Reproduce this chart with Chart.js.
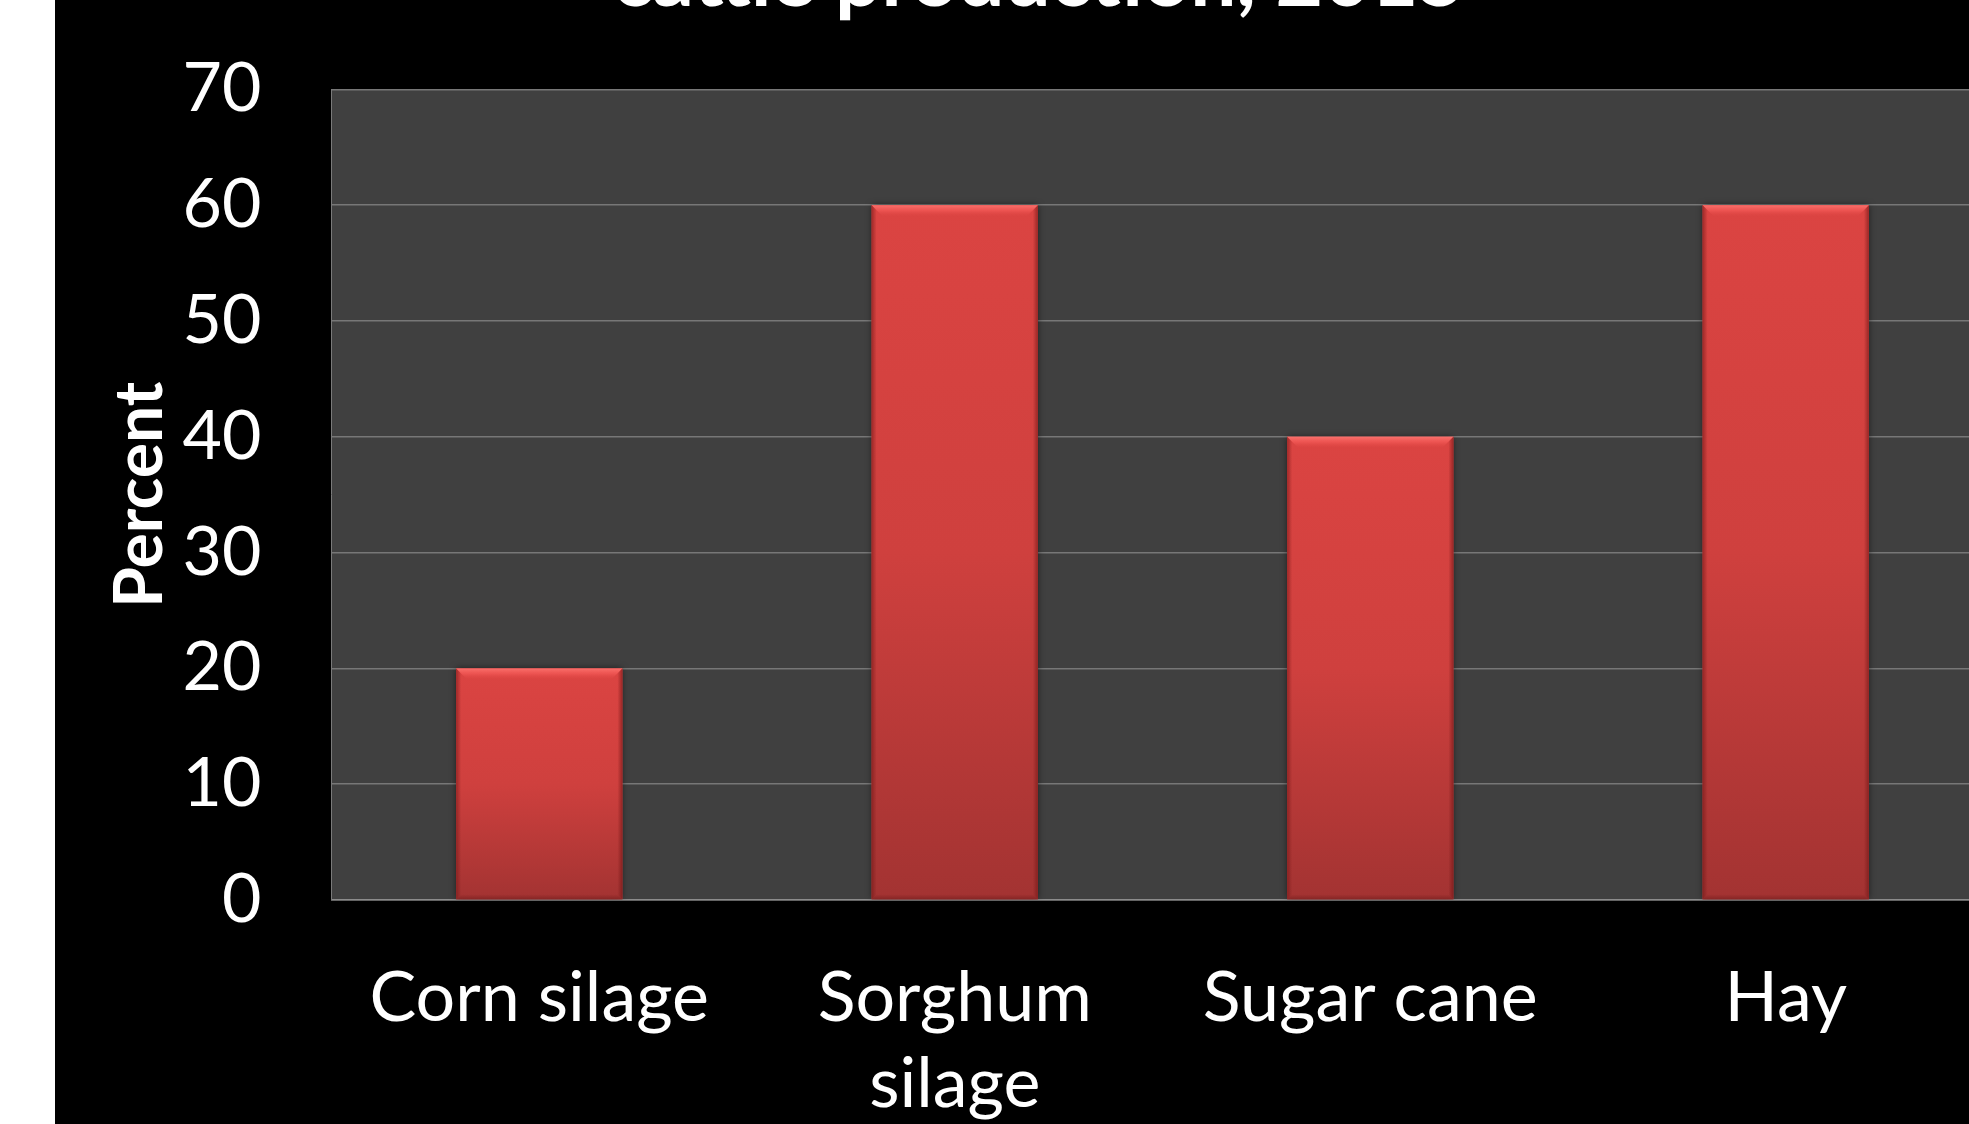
<!DOCTYPE html>
<html>
<head>
<meta charset="utf-8">
<script src="https://cdn.jsdelivr.net/npm/chart.js@4/dist/chart.umd.min.js"></script>
<style>
  html, body { margin: 0; padding: 0; background: #ffffff; overflow: hidden; width: 1969px; height: 1124px; }
  #wrap { position: absolute; left: 55px; top: -82px; width: 1968px; height: 1214px; background: #000000; }
  canvas { display: block; }
</style>
</head>
<body>
<div id="wrap"><canvas id="chart" width="1968" height="1214"></canvas></div>
<script>
// Forage use in cattle production (percent)
const categories = ['Corn silage', ['Sorghum', 'silage'], 'Sugar cane', 'Hay'];
const percentValues = [20, 60, 40, 60];
const yTicks = [0, 10, 20, 30, 40, 50, 60, 70];
const titleText = 'cattle production, 2015';
const yAxisTitle = 'Percent';

const FONT = 'Lato, "Open Sans", sans-serif';

// dark grey plotting area behind the grid
const plotBackground = {
  id: 'plotBackground',
  beforeDraw(chart) {
    const { ctx, chartArea: a } = chart;
    ctx.save();
    ctx.fillStyle = '#404040';
    ctx.fillRect(a.left, a.top, a.right - a.left, a.bottom - a.top);
    ctx.restore();
  }
};

// soft shadow under the bars, a vertical shading and a bevelled edge on each one
const barBevel = {
  id: 'barBevel',
  beforeDatasetsDraw(chart) {
    const c = chart.ctx;
    c.save();
    c.shadowColor = 'rgba(0,0,0,0.6)';
    c.shadowBlur = 7;
    c.shadowOffsetX = 0;
    c.shadowOffsetY = 0;
  },
  afterDatasetsDraw(chart) {
    const c = chart.ctx;
    c.restore();
    chart.getDatasetMeta(0).data.forEach(el => {
      const { x, y, base, width } = el.getProps(['x', 'y', 'base', 'width'], true);
      if (![x, y, base, width].every(Number.isFinite)) return;
      const l = x - width / 2, r = x + width / 2, t = y, b = base;
      const tb = 11, sb = 5;
      c.save();
      // body shading, light at the top and darker toward the axis
      let g = c.createLinearGradient(0, t, 0, b);
      g.addColorStop(0, '#db4442');
      g.addColorStop(0.5, '#cf403e');
      g.addColorStop(1, '#a33332');
      c.fillStyle = g;
      c.fillRect(l, t, r - l, b - t);
      // top highlight
      g = c.createLinearGradient(0, t, 0, t + tb);
      g.addColorStop(0, 'rgba(255,120,115,0.85)');
      g.addColorStop(0.5, 'rgba(250,95,92,0.55)');
      g.addColorStop(1, 'rgba(230,75,72,0.0)');
      c.fillStyle = g;
      c.beginPath();
      c.moveTo(l, t); c.lineTo(r, t); c.lineTo(r - tb, t + tb); c.lineTo(l + tb, t + tb); c.closePath();
      c.fill();
      // left edge
      g = c.createLinearGradient(l, 0, l + sb, 0);
      g.addColorStop(0, 'rgba(110,20,20,0.55)');
      g.addColorStop(1, 'rgba(110,20,20,0)');
      c.fillStyle = g;
      c.beginPath();
      c.moveTo(l, t); c.lineTo(l + sb, t + sb); c.lineTo(l + sb, b - sb); c.lineTo(l, b); c.closePath();
      c.fill();
      // right edge
      g = c.createLinearGradient(r, 0, r - sb, 0);
      g.addColorStop(0, 'rgba(110,20,20,0.6)');
      g.addColorStop(1, 'rgba(110,20,20,0)');
      c.fillStyle = g;
      c.beginPath();
      c.moveTo(r, t); c.lineTo(r - sb, t + sb); c.lineTo(r - sb, b - sb); c.lineTo(r, b); c.closePath();
      c.fill();
      // bottom edge
      g = c.createLinearGradient(0, b, 0, b - sb);
      g.addColorStop(0, 'rgba(100,20,20,0.45)');
      g.addColorStop(1, 'rgba(100,20,20,0)');
      c.fillStyle = g;
      c.beginPath();
      c.moveTo(l, b); c.lineTo(r, b); c.lineTo(r - sb, b - sb); c.lineTo(l + sb, b - sb); c.closePath();
      c.fill();
      c.restore();
    });
  }
};

new Chart(document.getElementById('chart'), {
  type: 'bar',
  data: {
    labels: categories,
    datasets: [{
      label: yAxisTitle,
      data: percentValues,
      backgroundColor: '#c83e3c',
      borderWidth: 0,
      barPercentage: 0.4,
      categoryPercentage: 1.0
    }]
  },
  options: {
    responsive: false,
    animation: false,
    events: [],
    layout: { padding: { left: 30, right: 29.5, top: 0, bottom: 0 } },
    plugins: {
      legend: { display: false },
      tooltip: { enabled: false },
      title: {
        display: true,
        text: titleText,
        color: '#ffffff',
        font: { family: FONT, size: 82, weight: 'bold', lineHeight: 1.2 },
        padding: { top: 12.6, bottom: 60.4 }
      }
    },
    scales: {
      x: {
        grid: { display: false, drawTicks: false },
        border: { display: true, color: '#8c8c8c', width: 1.5 },
        ticks: {
          color: '#ffffff',
          font: { family: FONT, size: 70, lineHeight: 1.23 },
          padding: 55,
          maxRotation: 0,
          autoSkip: false
        },
        afterFit(scale) { scale.height = 232; }
      },
      y: {
        min: 0,
        max: 70,
        afterBuildTicks(scale) { scale.ticks = yTicks.map(v => ({ value: v })); },
        ticks: {
          color: '#ffffff',
          font: { family: FONT, size: 68 },
          padding: 70
        },
        grid: { color: '#777777', lineWidth: 1.5, drawTicks: false },
        border: { display: true, color: '#7a7a7a', width: 1 },
        title: {
          display: true,
          text: yAxisTitle,
          color: '#ffffff',
          font: { family: FONT, size: 66, weight: 'bold', lineHeight: 1.2 },
          padding: { top: 16, bottom: 0 }
        },
        afterFit(scale) { scale.width = 246.5; }
      }
    }
  },
  plugins: [plotBackground, barBevel]
});
</script>
</body>
</html>
